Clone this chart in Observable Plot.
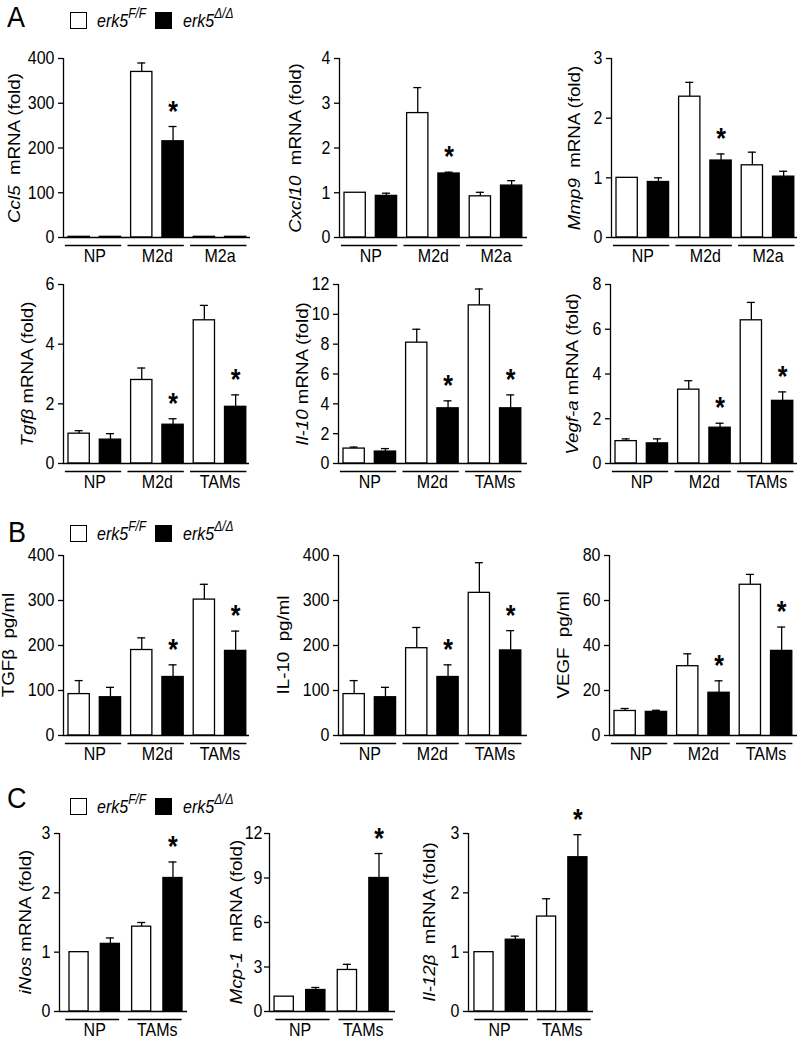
<!DOCTYPE html>
<html><head><meta charset="utf-8">
<script src="https://cdn.jsdelivr.net/npm/d3@7"></script>
<script src="https://cdn.jsdelivr.net/npm/@observablehq/plot@0.6"></script>
<style>
body{margin:0;background:#fff;font-family:"Liberation Sans",Arial,sans-serif;color:#000;}
#fig{position:relative;width:802px;height:1044px;overflow:hidden;background:#fff;}
.plot{position:absolute;}
.ylab{position:absolute;white-space:nowrap;font-size:16px;line-height:1;transform:translate(-50%,-50%) rotate(-90deg) scale(1.17,1);}
.letter{position:absolute;font-size:27px;line-height:1;transform:scaleY(1.08);transform-origin:0 50%;}
.box{position:absolute;width:17px;height:17px;border:1.3px solid #000;box-sizing:border-box;}
.ltxt{position:absolute;font-size:16px;line-height:1;font-style:italic;white-space:nowrap;transform:scaleY(1.15);transform-origin:0 50%;}
.ltxt sup{font-size:12px;vertical-align:0;position:relative;top:-8px;}
</style></head><body><div id="fig"></div>
<script>
// ---------- data ----------
const groupsA1 = ["NP", "M2d", "M2a"];
const groupsA2 = ["NP", "M2d", "TAMs"];
const groupsB = ["NP", "M2d", "TAMs"];
const groupsC = ["NP", "TAMs"];

const ccl5Mean = [1.5, 1.5, 370, 215, 1.5, 1.5];
const ccl5Err = [1.5, 1.5, 390, 248, 1.5, 1.5];
const ccl5Star = [3];
const ccl5Ticks = [0, 100, 200, 300, 400];

const cxcl10Mean = [1.0, 0.93, 2.78, 1.43, 0.92, 1.16];
const cxcl10Err = [1.0, 0.99, 3.35, 1.46, 1.01, 1.27];
const cxcl10Star = [3];
const cxcl10Ticks = [0, 1, 2, 3, 4];

const mmp9Mean = [1.0, 0.93, 2.36, 1.29, 1.21, 1.02];
const mmp9Err = [1.0, 1.0, 2.6, 1.4, 1.43, 1.11];
const mmp9Star = [3];
const mmp9Ticks = [0, 1, 2, 3];

const tgfbMean = [1.0, 0.8, 2.8, 1.3, 4.8, 1.9];
const tgfbErr = [1.1, 1.0, 3.2, 1.5, 5.3, 2.3];
const tgfbStar = [3, 5];
const tgfbTicks = [0, 2, 4, 6];

const il10Mean = [1.0, 0.8, 8.1, 3.7, 10.6, 3.7];
const il10Err = [1.1, 1.0, 9.0, 4.2, 11.7, 4.6];
const il10Star = [3, 5];
const il10Ticks = [0, 2, 4, 6, 8, 10, 12];

const vegfaMean = [1.0, 0.9, 3.3, 1.6, 6.4, 2.8];
const vegfaErr = [1.1, 1.1, 3.7, 1.8, 7.2, 3.2];
const vegfaStar = [3, 5];
const vegfaTicks = [0, 2, 4, 6, 8];

const tgfbPgMean = [92, 85, 190, 130, 302, 188];
const tgfbPgErr = [122, 107, 217, 157, 336, 232];
const tgfbPgStar = [3, 5];
const tgfbPgTicks = [0, 100, 200, 300, 400];

const il10PgMean = [92, 85, 194, 130, 317, 189];
const il10PgErr = [122, 107, 240, 157, 384, 233];
const il10PgStar = [3, 5];
const il10PgTicks = [0, 100, 200, 300, 400];

const vegfPgMean = [10.9, 10.5, 30.8, 19.0, 67.0, 37.6];
const vegfPgErr = [12.0, 11.2, 36.3, 24.3, 71.6, 48.2];
const vegfPgStar = [3, 5];
const vegfPgTicks = [0, 20, 40, 60, 80];

const inosMean = [1.0, 1.14, 1.43, 2.25];
const inosErr = [1.0, 1.24, 1.5, 2.52];
const inosStar = [3];
const inosTicks = [0, 1, 2, 3];

const mcp1Mean = [1.0, 1.45, 2.8, 9.0];
const mcp1Err = [1.0, 1.62, 3.18, 10.65];
const mcp1Star = [3];
const mcp1Ticks = [0, 3, 6, 9, 12];

const il12Mean = [1.0, 1.21, 1.6, 2.6];
const il12Err = [1.0, 1.27, 1.9, 2.98];
const il12Star = [3];
const il12Ticks = [0, 1, 2, 3];

// ---------- drawing ----------
const fig = document.getElementById("fig");
const FONT = "'Liberation Sans', Arial, sans-serif";
const TEXT_STRETCH = 1.15; // the source figure's lettering is slightly taller than wide

function makeChart(c) {
  const mL = 50, mR = 4, mT = 36, mB = 40;
  const plotW = c.endX - c.axisX, plotH = c.zeroY - c.topY;
  const xMax = plotW / c.pitch;
  const bars = c.means.map((m, i) => ({i, g: Math.floor(i / 2), geno: i % 2, mean: m, err: c.errs[i]}));
  const cx = d => d.i + c.off + c.bw / 2;
  const cap = 4 / c.pitch;
  const groups = c.groups.map((name, g) => ({name, g, center: 2 * g + c.off + (1 + c.bw) / 2}));
  const nameOf = new Map(groups.map(d => [d.center, d.name]));
  const withErr = bars.filter(d => d.err > d.mean);
  const sw = 1.3;
  const svg = Plot.plot({
    width: mL + plotW + mR,
    height: mT + plotH + mB,
    marginLeft: mL, marginRight: mR, marginTop: mT, marginBottom: mB,
    style: {fontFamily: FONT, fontSize: "16px", color: "black", background: "transparent", overflow: "visible"},
    x: {domain: [0, xMax]},
    y: {domain: [0, c.yMax]},
    marks: [
      Plot.ruleX(withErr, {x: cx, y1: "mean", y2: "err", stroke: "black", strokeWidth: sw}),
      Plot.ruleY(withErr, {y: "err", x1: d => cx(d) - cap, x2: d => cx(d) + cap, stroke: "black", strokeWidth: sw}),
      Plot.rect(bars.filter(d => d.geno === 0), {x1: d => d.i + c.off, x2: d => d.i + c.off + c.bw, y1: () => 0, y2: "mean", fill: "white", stroke: "black", strokeWidth: sw}),
      Plot.rect(bars.filter(d => d.geno === 1), {x1: d => d.i + c.off, x2: d => d.i + c.off + c.bw, y1: () => 0, y2: "mean", fill: "black", stroke: "black", strokeWidth: sw}),
      Plot.text(bars.filter(d => c.stars.includes(d.i)), {x: cx, y: "err", text: () => "*", dy: -6, lineAnchor: "bottom", fontSize: 25, fontWeight: "bold", fill: "black"}),
      Plot.ruleX([0], {stroke: "black", strokeWidth: sw}),
      Plot.ruleY([0], {stroke: "black", strokeWidth: sw}),
      Plot.ruleY(groups, {y: () => 0, x1: d => 2 * d.g + c.u1, x2: d => 2 * d.g + c.u2, dy: 8, stroke: "black", strokeWidth: sw}),
      Plot.axisY({ticks: c.ticks, tickSize: 5, tickPadding: c.tickPad ?? 4, tickFormat: d => String(d), label: null, fontSize: 16, stroke: "black", strokeWidth: sw}),
      Plot.axisX({ticks: groups.map(d => d.center), tickSize: 0, tickPadding: 11, tickFormat: d => nameOf.get(d), label: null, fontSize: 16})
    ]
  });
  svg.querySelectorAll("text").forEach(t => {
    const tr = t.getAttribute("transform");
    if (tr) t.setAttribute("transform", tr + ` scale(1,${TEXT_STRETCH})`);
  });
  svg.classList.add("plot");
  svg.style.left = (c.axisX - mL) + "px";
  svg.style.top = (c.topY - mT) + "px";
  fig.appendChild(svg);
  const lab = document.createElement("div");
  lab.className = "ylab";
  lab.innerHTML = c.label;
  lab.style.left = c.labX + "px";
  lab.style.top = ((c.topY + c.zeroY) / 2) + "px";
  fig.appendChild(lab);
}

function letter(t, x, y) {
  const d = document.createElement("div");
  d.className = "letter"; d.textContent = t;
  d.style.left = x + "px"; d.style.top = y + "px";
  fig.appendChild(d);
}
function legend(boxTop) {
  const b1 = document.createElement("div"); b1.className = "box";
  b1.style.left = "70px"; b1.style.top = boxTop + "px"; b1.style.background = "#fff";
  const b2 = document.createElement("div"); b2.className = "box";
  b2.style.left = "155px"; b2.style.top = boxTop + "px"; b2.style.background = "#000";
  const t1 = document.createElement("div"); t1.className = "ltxt";
  t1.innerHTML = "erk5<sup>F/F</sup>"; t1.style.left = "97px"; t1.style.top = (boxTop + 1) + "px";
  const t2 = document.createElement("div"); t2.className = "ltxt";
  t2.innerHTML = "erk5<sup>Δ/Δ</sup>"; t2.style.left = "183px"; t2.style.top = (boxTop + 1) + "px";
  [b1, b2, t1, t2].forEach(e => fig.appendChild(e));
}

const rowA = {pitch: 31.3, off: 0.16, bw: 0.68, u1: 0.06, u2: 1.86};
const rowC = {bw: 0.61, u1: 0.2, u2: 1.92};

// Panel A, row 1
makeChart({...rowA, means: ccl5Mean, errs: ccl5Err, stars: ccl5Star, ticks: ccl5Ticks, yMax: 400, groups: groupsA1,
  axisX: 63, endX: 250, topY: 58, zeroY: 237, labX: 15, label: "<i>Ccl5</i>&nbsp; mRNA (fold)"});
makeChart({...rowA, means: cxcl10Mean, errs: cxcl10Err, stars: cxcl10Star, ticks: cxcl10Ticks, yMax: 4, groups: groupsA1,
  axisX: 339, endX: 527, topY: 58, zeroY: 237, labX: 296, label: "<i>Cxcl10</i>&nbsp; mRNA (fold)"});
makeChart({...rowA, means: mmp9Mean, errs: mmp9Err, stars: mmp9Star, ticks: mmp9Ticks, yMax: 3, groups: groupsA1,
  axisX: 611, endX: 797, topY: 58, zeroY: 237, labX: 575, label: "<i>Mmp9</i>&nbsp; mRNA (fold)"});
// Panel A, row 2
makeChart({...rowA, means: tgfbMean, errs: tgfbErr, stars: tgfbStar, ticks: tgfbTicks, yMax: 6, groups: groupsA2,
  axisX: 63, endX: 249, topY: 284, zeroY: 463, labX: 28, label: "<i>Tgfβ</i> mRNA (fold)"});
makeChart({...rowA, means: il10Mean, errs: il10Err, stars: il10Star, ticks: il10Ticks, yMax: 12, groups: groupsA2,
  axisX: 338, endX: 527, topY: 284, zeroY: 463, labX: 303, label: "<i>Il-10</i> mRNA (fold)"});
makeChart({...rowA, means: vegfaMean, errs: vegfaErr, stars: vegfaStar, ticks: vegfaTicks, yMax: 8, groups: groupsA2,
  axisX: 610, endX: 797, topY: 284, zeroY: 463, labX: 573, label: "<i>Vegf-a</i> mRNA (fold)"});
// Panel B
makeChart({...rowA, means: tgfbPgMean, errs: tgfbPgErr, stars: tgfbPgStar, ticks: tgfbPgTicks, yMax: 400, groups: groupsB,
  axisX: 63, endX: 249, topY: 555, zeroY: 735, labX: 9, label: "TGFβ&nbsp; pg/ml"});
makeChart({...rowA, means: il10PgMean, errs: il10PgErr, stars: il10PgStar, ticks: il10PgTicks, yMax: 400, groups: groupsB,
  axisX: 338, endX: 527, topY: 555, zeroY: 735, labX: 284, label: "IL-10&nbsp; pg/ml"});
makeChart({...rowA, means: vegfPgMean, errs: vegfPgErr, stars: vegfPgStar, ticks: vegfPgTicks, yMax: 80, groups: groupsB,
  axisX: 609, endX: 797, topY: 555, zeroY: 735, labX: 564, label: "VEGF&nbsp; pg/ml"});
// Panel C
makeChart({...rowC, pitch: 31.3, off: 0.32, means: inosMean, errs: inosErr, stars: inosStar, ticks: inosTicks, yMax: 3, groups: groupsC,
  axisX: 59, endX: 187, topY: 833, zeroY: 1011, labX: 26, label: "<i>iNos</i> mRNA (fold)"});
makeChart({...rowC, pitch: 31.6, off: 0.16, means: mcp1Mean, errs: mcp1Err, stars: mcp1Star, ticks: mcp1Ticks, yMax: 12, groups: groupsC,
  axisX: 269, endX: 395, topY: 833, zeroY: 1011, labX: 237, tickPad: 2, label: "<i>Mcp-1</i>&nbsp; mRNA (fold)"});
makeChart({...rowC, pitch: 31.3, off: 0.19, means: il12Mean, errs: il12Err, stars: il12Star, ticks: il12Ticks, yMax: 3, groups: groupsC,
  axisX: 468, endX: 593, topY: 833, zeroY: 1011, labX: 430, label: "<i>Il-12β</i>&nbsp; mRNA (fold)"});

letter("A", 7, 4);
letter("B", 8, 519);
letter("C", 7, 785);
legend(12);
legend(525);
legend(798);
</script></body></html>
